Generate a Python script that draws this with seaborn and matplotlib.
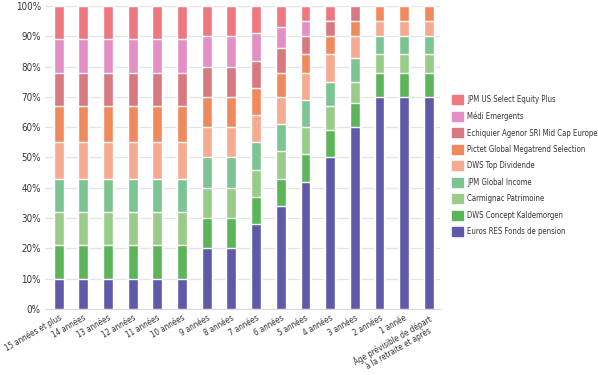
import numpy as np
import pandas as pd
import matplotlib
matplotlib.use('Agg')
import matplotlib.pyplot as plt
import matplotlib.patches as mpatches
import seaborn as sns

sns.set_style('white')
plt.rcParams['font.family'] = ['DejaVu Sans']
plt.rcParams['font.stretch'] = 'condensed'

# horizon de placement (du plus lointain au départ en retraite)
categories = ['15 années et plus', '14 années', '13 années', '12 années',
              '11 années', '10 années', '9 années', '8 années', '7 années',
              '6 années', '5 années', '4 années', '3 années', '2 années',
              '1 année', 'Âge prévisible de départ\nà la retraite et après']

# allocations en % (bas -> haut de la pile)
euros_res   = [10, 10, 10, 10, 10, 10, 20, 20, 28, 34, 42, 50, 60, 70, 70, 70]
kaldemorgen = [11, 11, 11, 11, 11, 11, 10, 10, 9, 9, 9, 9, 8, 8, 8, 8]
carmignac   = [11, 11, 11, 11, 11, 11, 10, 10, 9, 9, 9, 8, 7, 6, 6, 6]
jpm_income  = [11, 11, 11, 11, 11, 11, 10, 10, 9, 9, 9, 8, 8, 6, 6, 6]
dws_top     = [12, 12, 12, 12, 12, 12, 10, 10, 9, 9, 9, 9, 7, 5, 5, 5]
pictet      = [12, 12, 12, 12, 12, 12, 10, 10, 9, 8, 6, 6, 5, 5, 5, 5]
echiquier   = [11, 11, 11, 11, 11, 11, 10, 10, 9, 8, 6, 5, 5, 0, 0, 0]
medi        = [11, 11, 11, 11, 11, 11, 10, 10, 9, 7, 5, 0, 0, 0, 0, 0]
jpm_us      = [11, 11, 11, 11, 11, 11, 10, 10, 9, 7, 5, 5, 0, 0, 0, 0]

series = [
    ('Euros RES Fonds de pension', euros_res, '#5f59a8'),
    ('DWS Concept Kaldemorgen', kaldemorgen, '#5db55a'),
    ('Carmignac Patrimoine', carmignac, '#99cc88'),
    ('JPM Global Income', jpm_income, '#7cc491'),
    ('DWS Top Dividende', dws_top, '#f6aa92'),
    ('Pictet Global Megatrend Selection', pictet, '#f0895e'),
    ('Echiquier Agenor SRI Mid Cap Europe', echiquier, '#d87880'),
    ('Médi Emergents', medi, '#e48fc4'),
    ('JPM US Select Equity Plus', jpm_us, '#ef7880'),
]

df = pd.DataFrame({name: vals for name, vals, _ in series}, index=categories)
cum = df.cumsum(axis=1)

fig = plt.figure(figsize=(5.98, 3.75), dpi=100)
ax = fig.add_axes([45 / 598, 1 - 309 / 375, 395 / 598, 303 / 375])

# empilement : on trace les cumuls du haut vers le bas
for name, _, color in reversed(series):
    sns.barplot(x=cum.index, y=cum[name].values, color=color, width=0.4,
                saturation=1, ax=ax, zorder=3)

ax.set_ylim(0, 100)
ax.set_xlim(-0.55, 15.45)
ax.set_yticks(np.arange(0, 101, 10))
ax.set_yticklabels([f'{v}%' for v in range(0, 101, 10)])
ax.yaxis.grid(True, color='#e3e3e3', lw=0.9, zorder=0)
ax.set_axisbelow(True)
for s in ['top', 'right', 'left']:
    ax.spines[s].set_visible(False)
ax.spines['bottom'].set_color('#d9d9d9')
ax.tick_params(axis='both', length=0, labelsize=7, colors='#333333', pad=3)
ax.set_xticks(range(len(categories)))
ax.set_xticklabels(categories, rotation=30, ha='right',
                   rotation_mode='anchor', fontsize=5.8, linespacing=1.0,
                   multialignment='center')
ax.set_xlabel('')
ax.set_ylabel('')

handles = [mpatches.Patch(color=c, label=n) for n, _, c in reversed(series)]
leg = fig.legend(handles=handles, loc='upper left',
                 bbox_to_anchor=(449 / 598, 1 - 92 / 375), frameon=False,
                 fontsize=5.6, handlelength=1.4, handleheight=1.4,
                 handletextpad=0.5, labelspacing=0.95, borderaxespad=0)
for t in leg.get_texts():
    t.set_color('#333333')

fig.savefig('out.png', dpi=100)
